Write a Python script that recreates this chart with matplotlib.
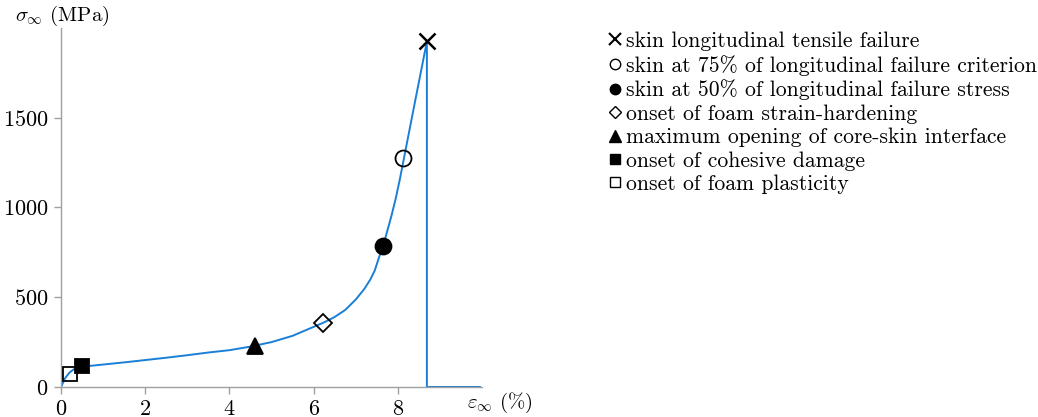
import numpy as np
import matplotlib.pyplot as plt
from matplotlib.lines import Line2D

plt.rcParams['font.family'] = ['cmr10', 'DejaVu Serif']
plt.rcParams['mathtext.fontset'] = 'cm'
plt.rcParams['axes.formatter.use_mathtext'] = True

# stress-strain curve
strain = [0, 0.05, 0.1, 0.2, 0.3, 0.4, 0.5, 1.0, 1.5, 2.0, 2.5, 3.0, 3.5, 4.0, 4.5,
          5.0, 5.5, 6.0, 6.25, 6.5, 6.75, 7.0, 7.2, 7.35, 7.45, 7.55, 7.65, 7.75,
          7.85, 7.95, 8.05, 8.2, 8.4, 8.69, 8.69, 9.95]
stress = [0, 25, 50, 80, 98, 108, 113, 125, 137, 150, 163, 177, 192, 205, 225,
          250, 285, 335, 360, 390, 429, 487, 545, 600, 648, 720, 785, 870,
          955, 1050, 1160, 1340, 1580, 1925, 0, 0]

# events along the curve
labels = ['skin longitudinal tensile failure',
          'skin at 75% of longitudinal failure criterion',
          'skin at 50% of longitudinal failure stress',
          'onset of foam strain-hardening',
          'maximum opening of core-skin interface',
          'onset of cohesive damage',
          'onset of foam plasticity']
ev_strain = [8.69, 8.12, 7.65, 6.22, 4.61, 0.50, 0.21]
ev_stress = [1925, 1276, 783, 357, 229, 117, 72]
markers = ['x', 'o', 'o', 'D', '^', 's', 's']
filled = [True, False, True, False, True, True, False]
msize = [11, 11.5, 11.5, 9, 11, 10, 10]
lsize = [8, 7.5, 7.5, 6, 8, 7.5, 7.5]

fig = plt.figure(figsize=(10.38, 4.17), dpi=100)
ax = fig.add_axes([0.0588, 0.072, 0.4056, 0.861])
ax.plot(strain, stress, color='#1a7fd8', lw=1.4, zorder=2)

handles = []
for i in range(len(labels)):
    if markers[i] == 'x':
        fc = 'black'
    else:
        fc = 'black' if filled[i] else 'none'
    ax.plot(ev_strain[i], ev_stress[i], marker=markers[i], ms=msize[i],
            mfc=fc, mec='black', mew=1.3 if markers[i] != 'x' else 1.8,
            ls='none', zorder=3, clip_on=False)
    handles.append(Line2D([], [], marker=markers[i], ms=lsize[i], mfc=fc,
                          mec='black', mew=1.0 if markers[i] != 'x' else 1.5,
                          ls='none'))

ax.set_xlim(0, 10)
ax.set_ylim(0, 2000)
ax.set_xticks([0, 2, 4, 6, 8])
ax.set_yticks([0, 500, 1000, 1500])
for s in ['top', 'right']:
    ax.spines[s].set_visible(False)
for s in ['left', 'bottom']:
    ax.spines[s].set_color('#a0a0a0')
    ax.spines[s].set_linewidth(1.0)
ax.tick_params(direction='out', length=5, width=1.0, color='#a0a0a0',
               labelsize=16, pad=4)

ax.text(-0.11, 1.0, r'$\sigma_\infty$ (MPa)', transform=ax.transAxes,
        fontsize=15, ha='left', va='bottom')
ax.text(0.965, -0.045, r'$\varepsilon_\infty$ (%)', transform=ax.transAxes,
        fontsize=15, ha='left', va='center')

fig.legend(handles, labels, loc='upper left', bbox_to_anchor=(0.586, 0.925),
           frameon=False, fontsize=15.6, handlelength=0.6, handletextpad=0.22,
           labelspacing=0.18, borderpad=0, borderaxespad=0)

plt.savefig('out.png', dpi=100)
